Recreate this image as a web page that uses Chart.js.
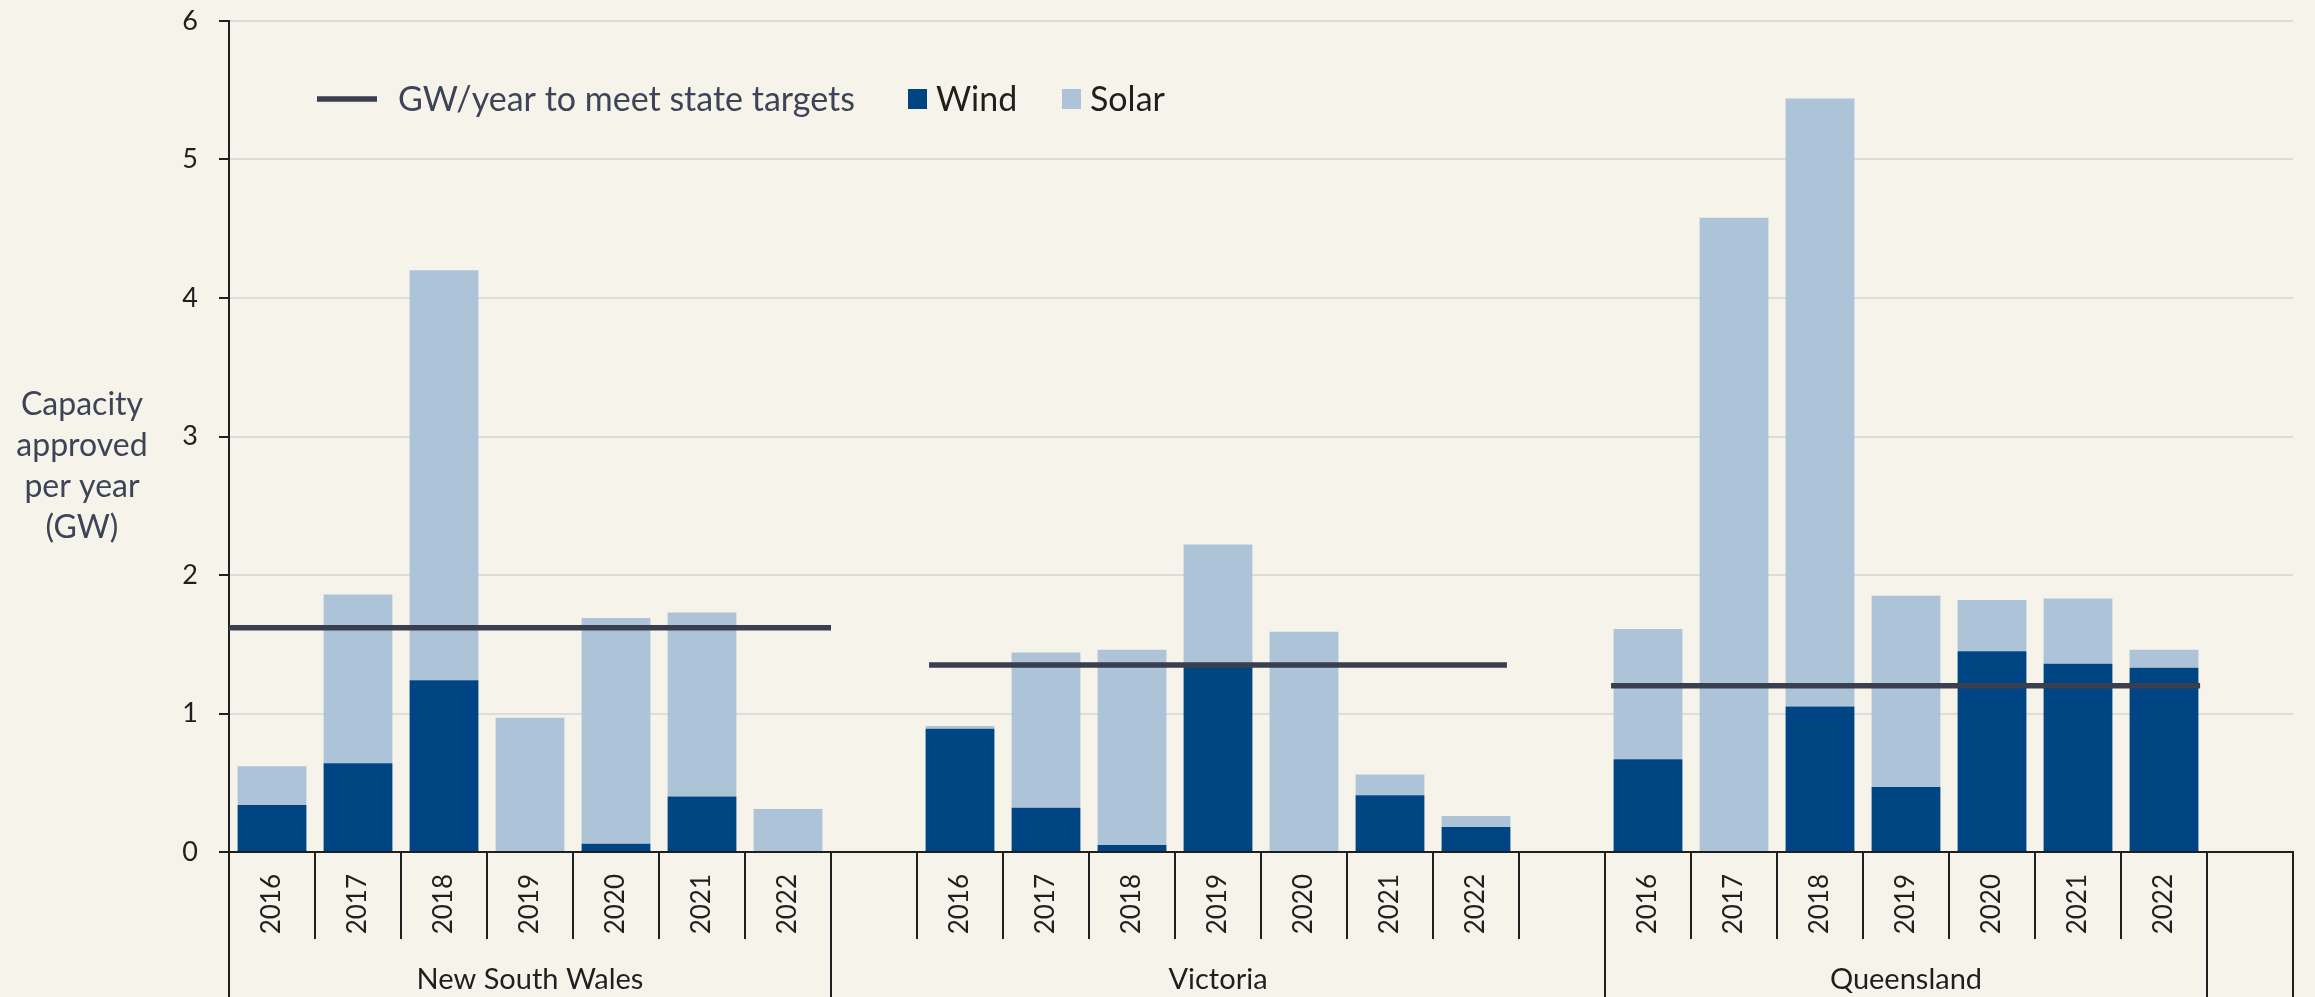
<!DOCTYPE html>
<html>
<head>
<meta charset="utf-8">
<script src="https://cdn.jsdelivr.net/npm/chart.js@4.4.1/dist/chart.umd.min.js"></script>
<style>
  html, body { margin: 0; padding: 0; background: #f6f4ea; }
  canvas { display: block; }
</style>
</head>
<body>
<canvas id="chart" width="2315" height="997"></canvas>
<script>
// years shown under each state
const YEARS = ['2016', '2017', '2018', '2019', '2020', '2021', '2022'];
const STATES = ['New South Wales', 'Victoria', 'Queensland'];

// GW approved per year
const windNSW  = [0.34, 0.64, 1.24, 0,    0.06, 0.40, 0];
const solarNSW = [0.28, 1.22, 2.96, 0.97, 1.63, 1.33, 0.31];
const windVIC  = [0.89, 0.32, 0.05, 1.35, 0,    0.41, 0.18];
const solarVIC = [0.02, 1.12, 1.41, 0.87, 1.59, 0.15, 0.08];
const windQLD  = [0.67, 0,    1.05, 0.47, 1.45, 1.36, 1.33];
const solarQLD = [0.94, 4.58, 4.39, 1.38, 0.37, 0.47, 0.13];

// GW/year needed to meet each state's target, and where each line starts / ends (category units)
const targets    = [1.62, 1.35, 1.20];
const targetFrom = [-0.59, 7.64, 15.57];
const targetTo   = [6.5, 14.36, 22.42];

const yTitle = ['Capacity', 'approved', 'per year', '(GW)'];

const FONT = 'Lato, "Noto Sans", sans-serif';
const BG = '#f6f4ea';
const INK = '#1f1f1f';
const SLATE = '#3d4457';

//builds the flat category list: each state's years, with empty slots between states
var labels = [];
var wind = [];
var solar = [];
var groups = [];   // [first index, last index + 1, name]

function addBlank() {
    labels.push('');
    wind.push(null);
    solar.push(null);
}

function addState(w, s) {
    for (var i = 0; i < YEARS.length; i++) {
        labels.push(YEARS[i]);
        wind.push(w[i]);
        solar.push(s[i]);
    }
}

var start = labels.length;
addState(windNSW, solarNSW);
groups.push([start, labels.length, STATES[0]]);

start = labels.length;
addBlank();
addState(windVIC, solarVIC);
addBlank();
groups.push([start, labels.length, STATES[1]]);

start = labels.length;
addState(windQLD, solarQLD);
groups.push([start, labels.length, STATES[2]]);

start = labels.length;
addBlank();
groups.push([start, labels.length, '']);

// target line points, with a null between states so the line breaks
var targetPts = [];
for (var k = 0; k < targets.length; k++) {
    targetPts.push({ x: targetFrom[k], y: targets[k] });
    targetPts.push({ x: targetTo[k], y: targets[k] });
    targetPts.push({ x: targetTo[k] + 0.2, y: null });
}

// draws background, the grouped category axis, y title and the legend
const decor = {
    id: 'decor',
    beforeDraw(chart) {
        const ctx = chart.ctx;
        ctx.save();
        ctx.fillStyle = BG;
        ctx.fillRect(0, 0, chart.width, chart.height);
        ctx.restore();
    },
    afterDraw(chart) {
        const ctx = chart.ctx;
        const xs = chart.scales.x2;
        const ys = chart.scales.y;
        const base = ys.getPixelForValue(0);
        var edges = [];
        groups.forEach(function (g) { edges.push(g[0]); edges.push(g[1]); });

        ctx.save();
        ctx.strokeStyle = INK;
        ctx.lineWidth = 2;
        for (var b = 0; b <= labels.length; b++) {
            var px = Math.round(xs.getPixelForValue(b - 0.5));
            var bottom = edges.indexOf(b) >= 0 ? chart.height : base + 87;
            ctx.beginPath();
            ctx.moveTo(px, base);
            ctx.lineTo(px, bottom);
            ctx.stroke();
        }

        // state names
        ctx.fillStyle = INK;
        ctx.font = '29px ' + FONT;
        ctx.textAlign = 'center';
        ctx.textBaseline = 'alphabetic';
        groups.forEach(function (g) {
            var cx = (xs.getPixelForValue(g[0] - 0.5) + xs.getPixelForValue(g[1] - 0.5)) / 2;
            ctx.fillText(g[2], cx, 989);
        });

        // y axis title, horizontal
        ctx.fillStyle = SLATE;
        ctx.font = '32px ' + FONT;
        for (var i = 0; i < yTitle.length; i++) {
            ctx.fillText(yTitle[i], 82, 415 + i * 41);
        }

        // legend, one entry per dataset
        var legendX = [317, 908, 1062];
        var ly = 99;
        ctx.textAlign = 'left';
        ctx.font = '34px ' + FONT;
        chart.data.datasets.forEach(function (ds, idx) {
            var x = legendX[idx];
            if (ds.type === 'line') {
                ctx.strokeStyle = ds.borderColor;
                ctx.lineWidth = ds.borderWidth;
                ctx.beginPath();
                ctx.moveTo(x, ly);
                ctx.lineTo(x + 60, ly);
                ctx.stroke();
                x += 81;
                ctx.fillStyle = SLATE;
            } else {
                ctx.fillStyle = ds.backgroundColor;
                ctx.fillRect(x, ly - 10, 19, 20);
                x += 28;
                ctx.fillStyle = INK;
            }
            ctx.fillText(ds.label, x, 111);
        });
        ctx.restore();
    }
};

var chart = new Chart(document.getElementById('chart'), {
    type: 'bar',
    data: {
        labels: labels,
        datasets: [
            {
                type: 'line',
                label: 'GW/year to meet state targets',
                data: targetPts,
                xAxisID: 'x2',
                borderColor: '#3a3f50',
                borderWidth: 5.5,
                borderCapStyle: 'butt',
                pointRadius: 0,
                spanGaps: false,
                order: 0
            },
            {
                type: 'bar',
                label: 'Wind',
                data: wind,
                backgroundColor: '#004583',
                xAxisID: 'x',
                grouped: false,
                barPercentage: 0.8,
                categoryPercentage: 1,
                order: 1
            },
            {
                type: 'bar',
                label: 'Solar',
                data: solar,
                backgroundColor: '#acc3d8',
                xAxisID: 'x',
                grouped: false,
                barPercentage: 0.8,
                categoryPercentage: 1,
                order: 1
            }
        ]
    },
    options: {
        responsive: false,
        animation: false,
        devicePixelRatio: 1,
        events: [],
        layout: { padding: { left: 0, right: 22, top: 21, bottom: 0 } },
        plugins: {
            legend: { display: false },
            tooltip: { enabled: false }
        },
        scales: {
            x: {
                type: 'category',
                stacked: true,
                offset: true,
                grid: { display: false, drawTicks: false },
                border: { display: true, color: INK, width: 2 },
                ticks: {
                    autoSkip: false,
                    minRotation: 90,
                    maxRotation: 90,
                    padding: 22,
                    color: INK,
                    font: { family: FONT, size: 26 }
                },
                afterFit: function (s) {
                    s.height = 145;
                    s.paddingLeft = 0;
                    s.paddingRight = 0;
                }
            },
            x2: {
                type: 'linear',
                display: false,
                offset: false,
                grid: { offset: false },
                min: -0.5,
                max: 23.5
            },
            y: {
                stacked: true,
                min: 0,
                max: 6,
                ticks: {
                    stepSize: 1,
                    padding: 21,
                    color: INK,
                    font: { family: FONT, size: 27 }
                },
                grid: {
                    color: '#dcdcdc',
                    lineWidth: 2,
                    tickColor: INK,
                    tickLength: 10,
                    tickWidth: 2
                },
                border: { display: true, color: INK, width: 2 },
                afterFit: function (s) {
                    s.width = 229;
                    s.paddingTop = 0;
                    s.paddingBottom = 0;
                }
            }
        }
    },
    plugins: [decor]
});
</script>
</body>
</html>
